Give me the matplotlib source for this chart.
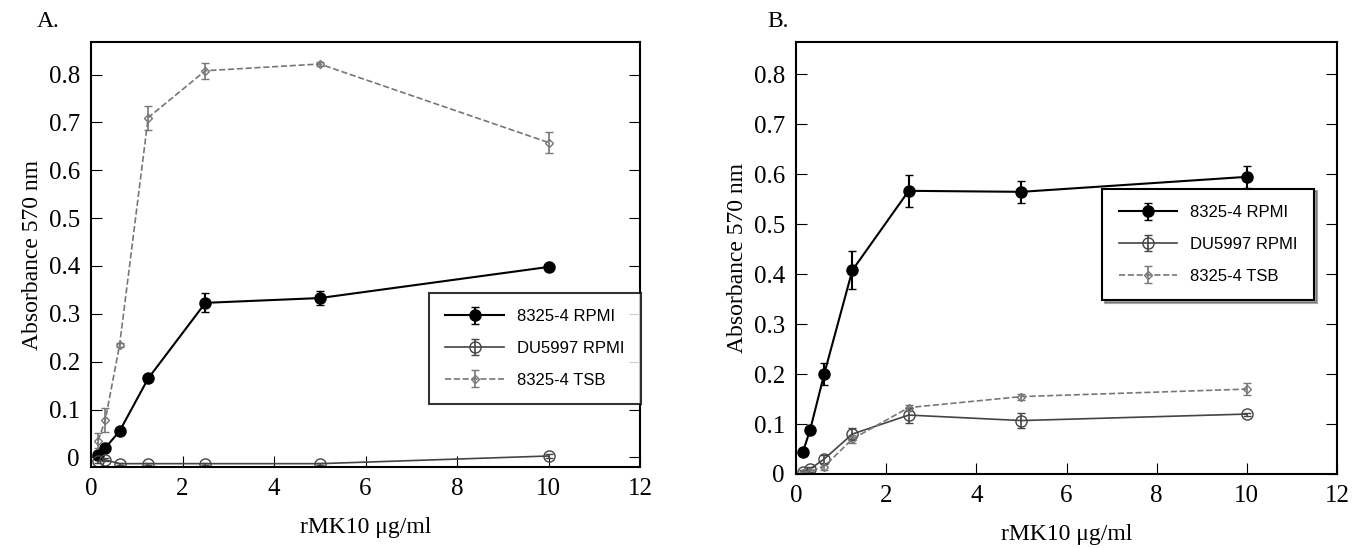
import matplotlib.pyplot as plt

conc = [0.156, 0.3125, 0.625, 1.25, 2.5, 5, 10]

a_rpmi = [0.005, 0.02, 0.055, 0.165, 0.323, 0.333, 0.398]
a_rpmi_err = [0.0, 0.0, 0.0, 0.0, 0.02, 0.015, 0.0]
a_du = [-0.008, -0.005, -0.013, -0.013, -0.013, -0.013, 0.003]
a_du_err = [0.003, 0.003, 0.002, 0.002, 0.002, 0.002, 0.004]
a_tsb = [0.035, 0.078, 0.235, 0.71, 0.808, 0.822, 0.658]
a_tsb_err = [0.015, 0.025, 0.005, 0.025, 0.017, 0.004, 0.022]

b_rpmi = [0.045, 0.088, 0.2, 0.408, 0.567, 0.565, 0.595]
b_rpmi_err = [0.0, 0.0, 0.022, 0.038, 0.032, 0.022, 0.022]
b_du = [0.005, 0.01, 0.03, 0.08, 0.118, 0.107, 0.12]
b_du_err = [0.004, 0.005, 0.008, 0.012, 0.015, 0.015, 0.003]
b_tsb = [0.003, 0.005, 0.015, 0.07, 0.133, 0.155, 0.17]
b_tsb_err = [0.003, 0.004, 0.006, 0.008, 0.006, 0.006, 0.012]

plt.rcParams['font.family'] = 'Liberation Serif'

fig = plt.figure(figsize=(13.63, 5.48), dpi=100)
axA = fig.add_axes([91 / 1363, 1 - 467 / 548, 549 / 1363, 425 / 548])
axB = fig.add_axes([796 / 1363, 1 - 474 / 548, 541 / 1363, 432 / 548])


def draw(ax, rpmi, rpmi_err, du, du_err, tsb, tsb_err, ylim):
    ax.errorbar(conc, rpmi, yerr=rpmi_err, color='black', marker='o', ms=8,
                lw=1.5, capsize=3, label='8325-4 RPMI')
    ax.errorbar(conc, du, yerr=du_err, color='#444444', marker='o', ms=8,
                mfc='none', lw=1.2, capsize=3, label='DU5997 RPMI')
    ax.errorbar(conc, tsb, yerr=tsb_err, color='#777777', marker='D', ms=4,
                mfc='none', lw=1.2, ls='--', capsize=3, label='8325-4 TSB')
    ax.set_xlim(0, 12)
    ax.set_ylim(*ylim)
    ax.set_xticks(range(0, 13, 2))
    ax.set_yticks([i / 10 for i in range(9)])
    ax.set_yticklabels(['0'] + ['%.1f' % (i / 10) for i in range(1, 9)])
    ax.tick_params(direction='in', labelsize=18, length=8, right=True, top=False, pad=8)
    ax.set_xlabel('rMK10 μg/ml', fontsize=17, labelpad=12)
    ax.set_ylabel('Absorbance 570 nm', fontsize=17)
    for s in ax.spines.values():
        s.set_linewidth(1.5)


draw(axA, a_rpmi, a_rpmi_err, a_du, a_du_err, a_tsb, a_tsb_err, (-0.02, 0.868))
draw(axB, b_rpmi, b_rpmi_err, b_du, b_du_err, b_tsb, b_tsb_err, (0, 0.865))

legA = axA.legend(loc='upper left', bbox_to_anchor=(0.6, 0.43), fancybox=False,
                  edgecolor='black', prop={'family': 'Liberation Sans', 'size': 12},
                  handlelength=3.5, borderpad=1.0, labelspacing=1.0)
legA.get_frame().set_linewidth(1.5)
legB = axB.legend(loc='upper left', bbox_to_anchor=(0.55, 0.68), fancybox=False,
                  shadow=True, edgecolor='black', prop={'family': 'Liberation Sans', 'size': 12},
                  handlelength=3.5, borderpad=1.0, labelspacing=1.0)
legB.get_frame().set_linewidth(1.5)

fig.text(0.027, 0.95, 'A.', fontsize=17)
fig.text(0.563, 0.95, 'B.', fontsize=17)

fig.savefig('out.png')
